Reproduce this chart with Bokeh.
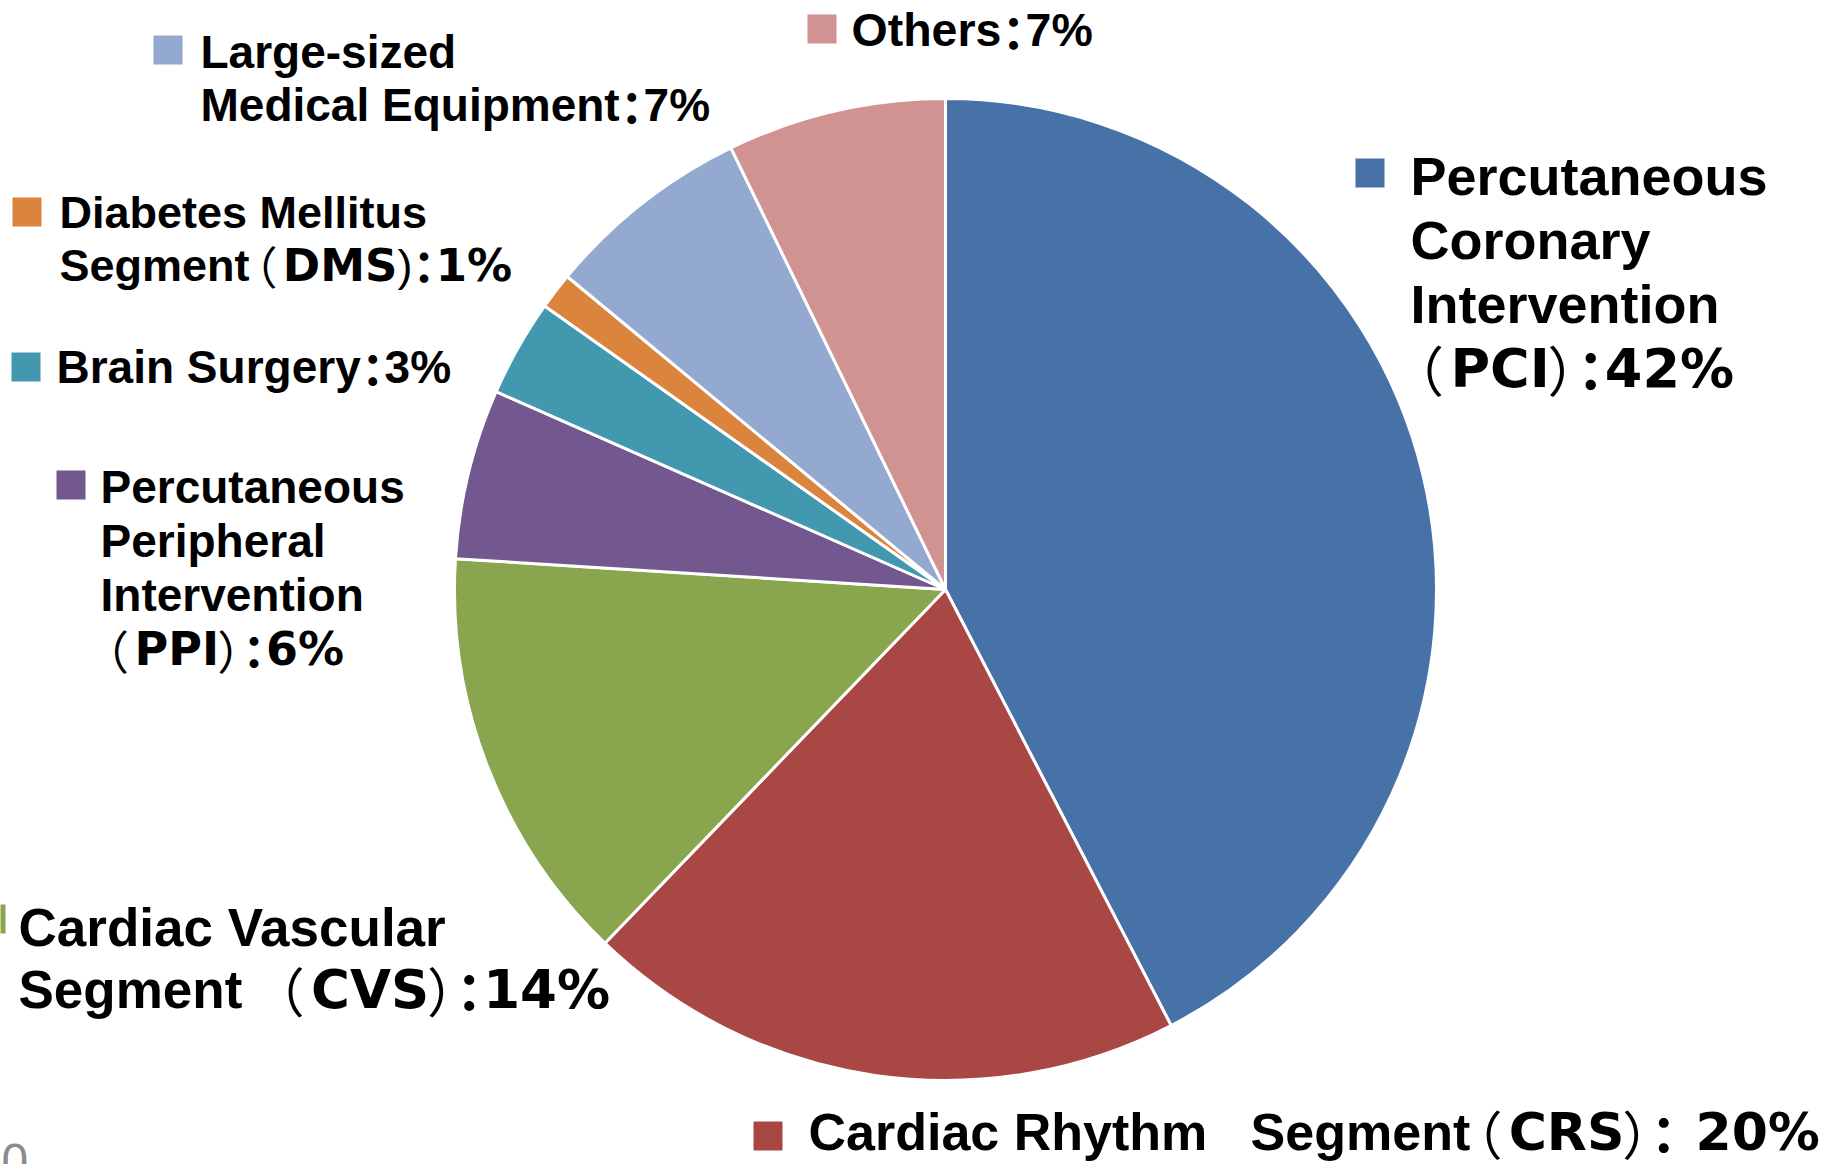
import numpy as np
from bokeh.plotting import figure
from bokeh.models import Range1d, ColumnDataSource
from bokeh.core.properties import value
from bokeh.embed import file_html
from bokeh.resources import INLINE

# ---------------- data ----------------
categories = ["PCI", "CRS", "CVS", "PPI", "Brain Surgery", "DMS",
              "Large-sized Medical Equipment", "Others"]
shares = [42.4, 19.8, 13.8, 5.6, 3.2, 1.2, 6.8, 7.2]
colors = ["#4672A8", "#A94745", "#89A54E", "#72588F",
          "#4298AF", "#DB843D", "#93A9CF", "#D19392"]

# label text, as runs: n = normal bold, h = heavy, o/c = full-width parens, k = full-width colon
labels = [
    [[("Percutaneous", "n")], [("Coronary", "n")], [("Intervention", "n")],
     [("（", "o"), ("PCI", "h"), ("）", "c"), ("：", "k"), ("42%", "h")]],
    [[("Cardiac Rhythm\u00a0\u00a0\u00a0Segment", "n"), ("（", "o"), ("CRS", "h"), ("）", "c"),
      ("：", "k"), ("\u00a020%", "h")]],
    [[("Cardiac Vascular", "n")],
     [("Segment\u00a0\u00a0", "n"), ("（", "o"), ("CVS", "h"), ("）", "c"), ("：", "k"), ("14%", "h")]],
    [[("Percutaneous", "n")], [("Peripheral", "n")], [("Intervention", "n")],
     [("（", "o"), ("PPI", "h"), ("）", "c"), ("：", "k"), ("6%", "h")]],
    [[("Brain Surgery", "n"), ("：", "k"), ("3%", "n")]],
    [[("Diabetes Mellitus", "n")],
     [("Segment", "n"), ("（", "o"), ("DMS", "h"), (")", "p"), ("：", "k"), ("1%", "h")]],
    [[("Large-sized", "n")], [("Medical Equipment", "n"), ("：", "k"), ("7%", "n")]],
    [[("Others", "n"), ("：", "k"), ("7%", "n")]],
]

# ---------------- layout (reference pixel coordinates) ----------------
W, H = 1841, 1164
CX, CY, R = 945, 589, 491
# square_x, square_top, text_x, first_baseline, line_step, font_px
label_layout = [
    (1355, 158, 1410, 194, 64.3, 54),
    (753, 1121, 808, 1150, 0, 52),
    (-24, 904, 18, 946, 62, 53),
    (56, 470, 100, 503, 54, 46),
    (11, 352, 56, 383, 0, 46),
    (12, 197, 59, 228, 53, 45),
    (153, 35, 200, 68, 53, 46),
    (807, 14, 851, 46, 0, 46.5),
]
SQ = 29
MID = 0.35  # distance from baseline to the middle of the text, in em

ARIAL_B = {' ': 278, '\u00a0': 278, '(': 333, ')': 333, '-': 333, '%': 889, ':': 333,
           'A': 722, 'B': 722, 'C': 722, 'D': 722, 'E': 667, 'F': 611, 'G': 778, 'H': 722, 'I': 278,
           'J': 556, 'K': 722, 'L': 611, 'M': 833, 'N': 722, 'O': 778, 'P': 667, 'Q': 778, 'R': 722,
           'S': 667, 'T': 611, 'U': 722, 'V': 667, 'W': 944, 'X': 667, 'Y': 667, 'Z': 611,
           'a': 556, 'b': 611, 'c': 556, 'd': 611, 'e': 556, 'f': 333, 'g': 611, 'h': 611, 'i': 278,
           'j': 278, 'k': 556, 'l': 278, 'm': 889, 'n': 611, 'o': 611, 'p': 611, 'q': 611, 'r': 389,
           's': 556, 't': 333, 'u': 611, 'v': 556, 'w': 778, 'x': 556, 'y': 556, 'z': 500}
for d in "0123456789":
    ARIAL_B[d] = 556
DEJAVU_B = {' ': 348, '\u00a0': 348, '%': 1002, 'C': 734, 'R': 770, 'S': 720, 'P': 733, 'I': 372,
            'D': 830, 'M': 996, 'V': 774}
for d in "0123456789":
    DEJAVU_B[d] = 696


def width(s, table):
    return sum(table.get(ch, 600) for ch in s) / 1000.0


# full-width glyph handling: (gap before, ink left inside em box, ink width, gap after) in em
FW = {"o": (0.22, 0.60, 0.26, 0.26), "c": (0.12, 0.16, 0.24, 0.14), "k": (0.18, 0.42, 0.18, 0.16)}

styles = {
    "n": ("Liberation Sans", "bold"),
    "h": ("DejaVu Sans", "bold"),
    "o": ("Noto Sans CJK JP", "normal"),
    "c": ("Noto Sans CJK JP", "normal"),
    "k": ("Noto Sans CJK JP", "bold"),
    "p": ("Liberation Sans", "normal"),
}
runs = {k: dict(x=[], y=[], text=[], size=[]) for k in styles}

for lab, (sqx, sqt, tx, b0, step, fpx) in zip(labels, label_layout):
    for li, line in enumerate(lab):
        cur = tx
        base = b0 + li * step
        for txt, st in line:
            if st in FW:
                gb, il, iw, ga = FW[st]
                cur += gb * fpx
                xdraw = cur - il * fpx
                cur += (iw + ga) * fpx
            elif st == "h":
                xdraw = cur
                cur += width(txt, DEJAVU_B) * fpx
            else:
                xdraw = cur
                cur += width(txt, ARIAL_B) * fpx
            r = runs[st]
            r["x"].append(xdraw)
            r["y"].append(-(base - MID * fpx))
            r["text"].append(txt)
            r["size"].append(f"{fpx}px")

# ---------------- figure ----------------
p = figure(width=W, height=H, output_backend="svg", toolbar_location=None,
           x_range=Range1d(0, W), y_range=Range1d(-H, 0),
           min_border=0, background_fill_color="white", border_fill_color="white")
p.axis.visible = False
p.grid.visible = False
p.outline_line_color = None

vals = np.array(shares, dtype=float)
cum = np.concatenate([[0.0], np.cumsum(vals)]) / vals.sum()
start = np.pi / 2 - 2 * np.pi * cum[:-1]
end = np.pi / 2 - 2 * np.pi * cum[1:]
src = ColumnDataSource(dict(cat=categories, start=start, end=end, color=colors))
p.wedge(x=CX, y=-CY, radius=R, start_angle="start", end_angle="end", direction="clock",
        fill_color="color", line_color="white", line_width=3, source=src)

# legend squares
sq = ColumnDataSource(dict(
    left=[l[0] for l in label_layout], right=[l[0] + SQ for l in label_layout],
    top=[-l[1] for l in label_layout], bottom=[-(l[1] + SQ) for l in label_layout],
    color=colors))
p.quad(left="left", right="right", top="top", bottom="bottom", fill_color="color",
       line_color=None, source=sq)

for st, (font, fstyle) in styles.items():
    r = runs[st]
    if not r["x"]:
        continue
    p.text(x="x", y="y", text="text", text_font_size="size", source=ColumnDataSource(r),
           text_font=value(font), text_font_style=fstyle, text_color="black",
           text_baseline="middle", text_align="left")

# stray axis tick remnant at the lower-left corner
p.text(x=[1], y=[-1160], text=["0"], text_font=value("Liberation Sans"), text_font_size="48px",
       text_color="#8c8c8c", text_baseline="middle")

open("out.html", "w").write(file_html(p, INLINE))
